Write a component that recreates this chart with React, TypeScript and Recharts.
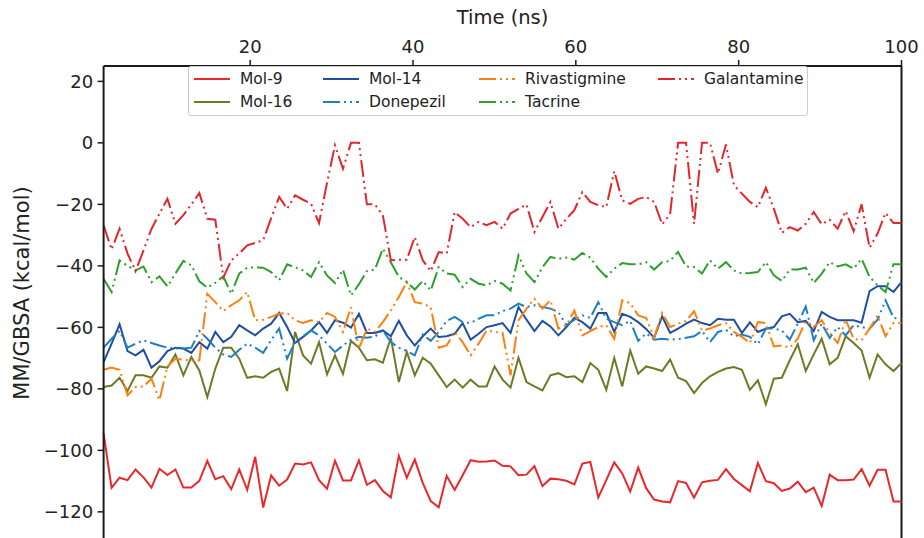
import { Legend, Line, LineChart, ReferenceLine, XAxis, YAxis } from "recharts";

// frames are plotted against their index; the top axis shows the time in ns
const timeTicks = [20, 40, 60, 80, 100];
const energyTicks = [20, 0, -20, -40, -60, -80, -100, -120];

const mol9 = [
  -94.5, -112.2, -108.9, -109.7, -106.2, -108.8, -112.1, -106.0, -108.0, -106.2,
  -112.1, -112.1, -109.9, -103.4, -109.4, -108.4, -112.6, -106.2, -112.9, -102.1,
  -118.6, -108.2, -111.5, -109.5, -104.3, -104.6, -103.9, -109.7, -112.5, -103.4,
  -109.8, -109.8, -103.3, -111.2, -109.7, -113.2, -115.3, -101.8, -108.9, -103.0,
  -110.6, -116.5, -118.5, -108.3, -112.9, -108.1, -103.2, -103.7, -103.6, -103.3,
  -105.0, -105.2, -108.1, -107.9, -105.1, -111.6, -109.2, -109.4, -109.9, -111.1,
  -104.3, -103.8, -115.3, -109.7, -103.9, -107.5, -113.4, -105.6, -112.3, -116.0,
  -116.6, -116.9, -110.0, -110.6, -115.4, -110.4, -109.9, -109.6, -106.1, -109.3,
  -111.3, -113.3, -104.1, -110.0, -110.7, -113.2, -112.4, -110.2, -113.6, -112.1,
  -118.1, -107.9, -109.7, -109.7, -109.5, -106.1, -111.5, -106.3, -106.3, -116.6,
  -116.6,
];

const mol16 = [
  -79.4, -78.9, -76.4, -80.7, -75.6, -75.6, -76.4, -72.7, -73.1, -68.8,
  -75.6, -69.6, -74.0, -82.7, -73.4, -66.6, -66.6, -70.2, -76.4, -75.9,
  -76.4, -74.5, -73.4, -80.7, -61.5, -69.1, -71.8, -64.8, -75.3, -69.1,
  -75.1, -64.4, -66.6, -70.7, -70.4, -71.5, -63.4, -77.8, -68.0, -75.6,
  -69.9, -71.8, -75.6, -79.4, -77.0, -79.6, -77.0, -79.2, -79.2, -72.7,
  -77.0, -79.6, -69.9, -77.8, -79.2, -80.5, -75.6, -74.9, -76.2, -75.9,
  -77.8, -71.6, -73.8, -80.3, -69.9, -79.2, -67.5, -75.1, -72.7, -73.4,
  -74.2, -70.5, -76.4, -77.5, -81.4, -78.1, -75.9, -74.5, -73.4, -72.9,
  -73.8, -80.3, -77.2, -85.0, -76.7, -76.4, -70.7, -65.5, -74.2, -68.8,
  -63.7, -72.0, -69.9, -62.9, -65.1, -67.5, -76.4, -68.8, -72.0, -74.2,
  -71.6,
];

const mol14 = [
  -71.3, -65.3, -59.0, -67.7, -69.1, -67.3, -73.1, -71.0, -67.7, -66.6,
  -66.9, -68.3, -64.8, -66.9, -61.5, -64.8, -63.1, -59.3, -61.0, -62.6,
  -60.4, -58.8, -55.3, -59.9, -65.1, -63.1, -61.0, -58.3, -61.8, -57.7,
  -58.5, -60.1, -55.6, -61.8, -61.8, -61.0, -62.9, -57.9, -62.6, -65.9,
  -62.9, -60.4, -63.1, -62.9, -62.1, -58.6, -64.0, -62.1, -59.9, -59.3,
  -58.6, -61.8, -53.4, -57.5, -61.2, -57.9, -59.7, -62.6, -59.9, -56.9,
  -58.3, -60.4, -55.3, -55.3, -61.5, -55.6, -56.6, -58.3, -60.5, -63.4,
  -56.4, -61.8, -60.4, -58.8, -57.5, -58.6, -59.3, -57.2, -57.5, -57.5,
  -61.8, -58.4, -61.5, -60.4, -59.9, -56.4, -55.6, -58.3, -57.9, -61.2,
  -55.0, -56.6, -57.7, -57.7, -57.7, -58.5, -48.2, -46.6, -46.6, -48.5,
  -45.3,
];

const donepezil = [
  -66.6, -63.7, -61.2, -66.6, -65.3, -64.2, -65.1, -65.9, -66.6, -66.9,
  -66.9, -66.6, -61.2, -63.7, -66.6, -68.8, -69.6, -67.3, -65.3, -66.6,
  -68.3, -64.2, -60.4, -70.2, -64.8, -62.9, -61.0, -62.6, -65.3, -68.0,
  -65.9, -64.0, -63.1, -63.4, -63.0, -61.0, -64.8, -66.6, -67.7, -69.1,
  -62.3, -64.4, -61.5, -57.9, -56.6, -58.3, -58.6, -57.2, -56.1, -56.1,
  -54.7, -53.9, -52.3, -53.4, -52.8, -53.4, -53.9, -55.0, -59.3, -57.5,
  -56.1, -56.9, -51.8, -57.2, -58.3, -59.3, -57.9, -64.4, -62.0, -64.0,
  -63.7, -64.0, -63.8, -63.4, -62.9, -61.2, -64.8, -61.5, -60.8, -62.9,
  -62.3, -63.1, -65.5, -60.4, -60.4, -61.0, -64.0, -58.8, -53.2, -64.2,
  -58.8, -63.4, -59.9, -62.6, -59.3, -59.9, -60.4, -57.5, -51.2, -56.9,
  -57.2,
];

const rivastigmine = [
  -73.8, -73.1, -73.8, -82.1, -79.4, -79.2, -76.7, -83.7, -72.7, -70.2,
  -70.5, -70.9, -70.7, -49.1, -51.8, -54.7, -52.8, -51.2, -48.5, -57.7,
  -57.5, -56.6, -55.6, -55.3, -57.7, -58.6, -57.7, -58.3, -55.3, -56.6,
  -61.5, -53.4, -66.9, -60.4, -61.4, -58.3, -54.5, -50.1, -45.3, -51.8,
  -52.3, -53.4, -66.6, -65.9, -61.5, -64.8, -69.1, -65.3, -61.0, -61.5,
  -61.8, -75.6, -57.7, -53.9, -50.7, -53.9, -51.2, -60.4, -59.3, -54.5,
  -62.6, -61.2, -59.9, -59.3, -63.7, -51.2, -52.1, -56.1, -57.0, -63.4,
  -55.3, -59.9, -58.8, -57.9, -54.7, -61.0, -60.4, -59.3, -58.6, -61.5,
  -63.1, -65.1, -58.3, -58.6, -66.2, -65.9, -66.6, -63.7, -57.9, -59.9,
  -57.7, -61.8, -65.1, -57.5, -63.7, -64.2, -60.4, -56.1, -62.9, -58.6,
  -58.6,
];

const tacrine = [
  -44.2, -48.5, -38.2, -40.0, -41.5, -40.2, -45.3, -43.4, -46.7, -42.5,
  -38.4, -39.8, -45.0, -47.1, -45.5, -43.4, -49.1, -42.5, -40.6, -40.5,
  -40.6, -42.0, -44.7, -39.5, -40.5, -41.5, -43.6, -38.8, -43.1, -45.6,
  -41.2, -49.6, -46.0, -41.7, -41.2, -34.4, -38.8, -43.6, -45.3, -47.7,
  -44.9, -48.0, -40.4, -42.5, -42.9, -46.9, -44.2, -45.8, -46.3, -44.9,
  -45.8, -48.0, -36.6, -42.5, -45.3, -40.4, -37.1, -37.7, -37.3, -38.0,
  -35.8, -37.3, -40.9, -43.6, -40.9, -39.1, -39.5, -39.5, -38.8, -41.2,
  -38.8, -38.4, -35.5, -40.2, -40.4, -42.5, -38.2, -40.9, -38.8, -41.5,
  -42.5, -42.3, -42.0, -38.8, -43.1, -44.9, -41.2, -41.2, -40.6, -45.6,
  -42.5, -38.8, -40.2, -39.5, -40.9, -37.7, -43.6, -46.3, -48.5, -39.5,
  -39.5,
];

const galantamine = [
  -26.8, -34.7, -27.9, -36.0, -41.7, -35.0, -28.0, -23.0, -18.2, -26.3,
  -23.5, -20.0, -16.3, -24.7, -25.0, -43.8, -38.2, -36.0, -33.3, -32.5,
  -31.7, -24.5, -17.6, -21.4, -17.1, -18.5, -19.8, -26.1, -13.0, -0.8,
  -8.4, 0, 0, -20.0, -20.0, -23.6, -38.2, -38.0, -38.0, -30.6,
  -38.2, -41.7, -35.5, -36.0, -22.5, -24.7, -27.4, -25.7, -26.8, -25.7,
  -27.9, -23.0, -21.5, -20.0, -29.0, -24.1, -19.2, -27.9, -24.7, -21.9,
  -16.0, -19.2, -20.3, -20.9, -9.2, -18.7, -19.8, -18.2, -17.6, -19.2,
  -26.5, -23.2, 0, 0, -26.3, 0, 0, -10.0, -0.5, -13.8,
  -16.5, -19.2, -20.9, -14.6, -21.4, -29.3, -27.4, -28.5, -26.3, -22.5,
  -26.5, -25.0, -27.9, -22.2, -28.7, -20.0, -34.1, -29.5, -22.8, -26.1,
  -26.1,
];

const dashDotDot = "17 4 2 4 2 4";

// matplotlib plot order (legend fills column by column, 4 columns)
const series = [
  { key: "mol9", name: "Mol-9", values: mol9, color: "#e8282b", dash: undefined },
  { key: "mol16", name: "Mol-16", values: mol16, color: "#6e7a26", dash: undefined },
  { key: "mol14", name: "Mol-14", values: mol14, color: "#1f4f9f", dash: undefined },
  { key: "donepezil", name: "Donepezil", values: donepezil, color: "#1f7fc0", dash: dashDotDot },
  { key: "rivastigmine", name: "Rivastigmine", values: rivastigmine, color: "#ff7f0e", dash: dashDotDot },
  { key: "tacrine", name: "Tacrine", values: tacrine, color: "#2ca02c", dash: dashDotDot },
  { key: "galantamine", name: "Galantamine", values: galantamine, color: "#e3262b", dash: dashDotDot },
];

const rows = mol9.map((_, i) => {
  const r: Record<string, number> = { frame: i };
  series.forEach((s) => (r[s.key] = s.values[i]));
  return r;
});

const FONT = "DejaVu Sans";
const fmt = (v: number) => String(v).replace("-", "\u2212");

// legend slots: column x of handle and text, row y
const legendCols = [5, 134, 290, 469];
const legendRows = [12, 35];

function LegendBox() {
  return (
    <div
      style={{
        position: "relative",
        width: 620,
        height: 50,
        boxSizing: "border-box",
        border: "1px solid #cccccc",
        borderRadius: 3,
        background: "rgba(255,255,255,0.85)",
        fontFamily: FONT,
        fontSize: 15.5,
        color: "#222",
      }}
    >
      {series.map((s, k) => {
        const col = Math.floor(k / 2);
        const row = k % 2;
        const x = legendCols[col];
        const y = legendRows[row];
        return (
          <div key={s.key} style={{ position: "absolute", left: x, top: y - 10, height: 20, display: "flex", alignItems: "center" }}>
            <svg width={36} height={20} style={{ display: "block" }}>
              <line x1={0} y1={10} x2={36} y2={10} stroke={s.color} strokeWidth={2.2} strokeDasharray={s.dash} />
            </svg>
            <span style={{ marginLeft: 10, lineHeight: "20px", whiteSpace: "nowrap" }}>{s.name}</span>
          </div>
        );
      })}
    </div>
  );
}

export default function App() {
  return (
    <div style={{ position: "absolute", left: 0, top: 0, width: 924, height: 538, overflow: "hidden", background: "#fff" }}>
      <LineChart width={924} height={570} data={rows} margin={{ top: 0, right: 22.5, bottom: 27.4, left: 0 }}>
        <XAxis xAxisId="f" dataKey="frame" type="number" domain={[0, 100]} hide />
        <XAxis
          xAxisId="t"
          dataKey="frame"
          type="number"
          orientation="top"
          domain={[2, 100]}
          allowDataOverflow
          ticks={timeTicks}
          height={66}
          tickSize={6}
          tickMargin={7}
          axisLine={{ stroke: "#1a1a1a", strokeWidth: 2 }}
          tickLine={{ stroke: "#1a1a1a", strokeWidth: 1.5 }}
          tick={{ fill: "#222", fontSize: 18, fontFamily: FONT }}
          label={{ value: "Time (ns)", position: "insideTop", offset: 10, fill: "#222", fontSize: 19.5, fontFamily: FONT }}
        />
        <YAxis
          xAxisId="f"
          type="number"
          domain={[-130, 25]}
          ticks={energyTicks}
          width={103.6}
          tickSize={6}
          tickMargin={4.5}
          tickFormatter={fmt}
          axisLine={{ stroke: "#1a1a1a", strokeWidth: 2 }}
          tickLine={{ stroke: "#1a1a1a", strokeWidth: 1.5 }}
          tick={{ fill: "#222", fontSize: 18, fontFamily: FONT }}
          label={{
            content: () => (
              <text x={22} y={293} transform="rotate(-90 22 293)" textAnchor="middle" dominantBaseline="central" fill="#222" fontSize={21} fontFamily={FONT}>
                MM/GBSA (kcal/mol)
              </text>
            ),
          }}
        />
        <ReferenceLine xAxisId="f" x={100} stroke="#1a1a1a" strokeWidth={2} />
        {series.map((s) => (
          <Line
            key={s.key}
            xAxisId="f"
            dataKey={s.key}
            name={s.name}
            type="linear"
            stroke={s.color}
            strokeWidth={2}
            strokeDasharray={s.dash}
            dot={false}
            activeDot={false}
            isAnimationActive={false}
          />
        ))}
        <Legend
          layout="horizontal"
          verticalAlign="middle"
          align="center"
          content={() => <LegendBox />}
          wrapperStyle={{ position: "absolute", left: 188, top: 66, width: 620, height: 50 }}
        />
      </LineChart>
    </div>
  );
}
